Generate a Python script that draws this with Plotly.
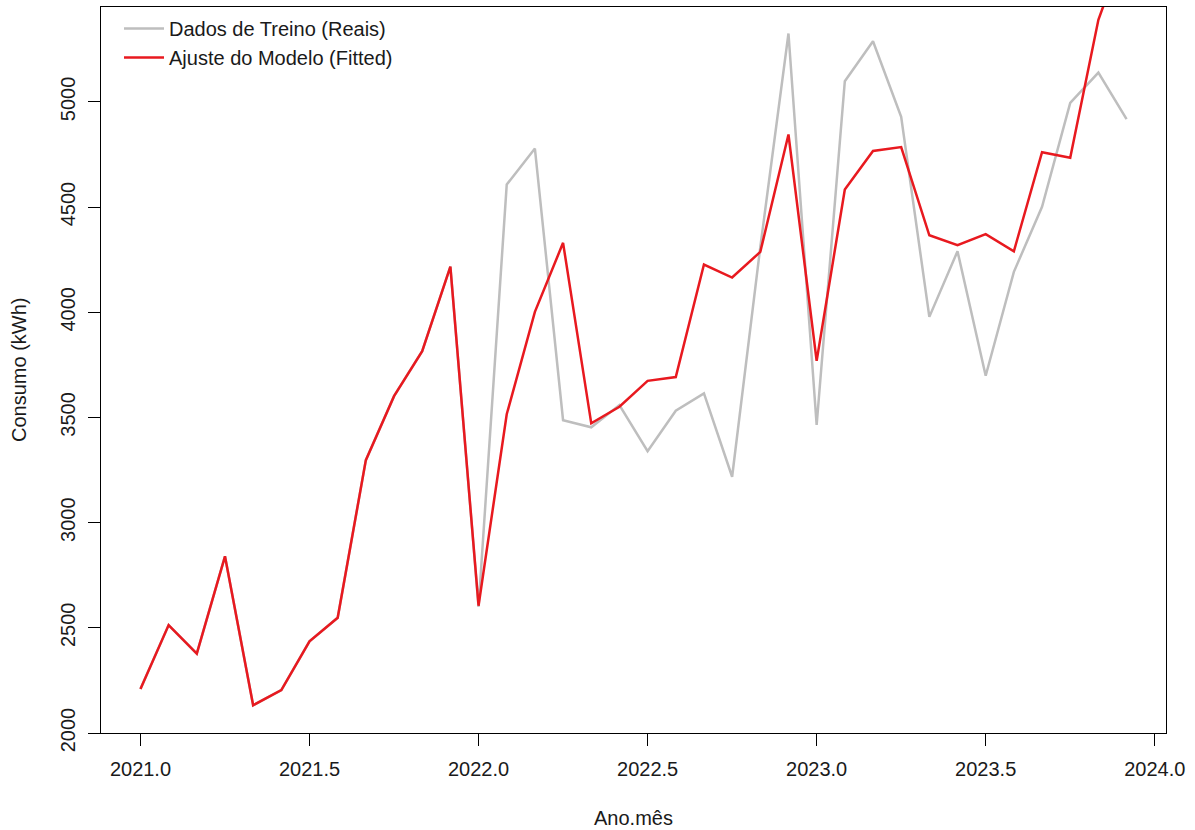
import plotly.graph_objects as go

# ---- data ----
anos = [2021, 2022, 2023]
meses = list(range(12))
tempo = [a + m / 12 for a in anos for m in meses]

reais = [2209, 2513, 2377, 2840, 2132, 2204, 2436, 2548, 3297, 3601, 3815, 4217,
         2600, 4607, 4778, 3487, 3453, 3559, 3340, 3532, 3614, 3218, 4310, 5325,
         3464, 5098, 5288, 4929, 3978, 4290, 3698, 4192, 4501, 4995, 5139, 4918]

ajustado = [2209, 2513, 2377, 2840, 2132, 2204, 2436, 2548, 3297, 3601, 3815, 4217,
            2605, 3515, 4002, 4330, 3472, 3551, 3674, 3692, 4227, 4165, 4287, 4845,
            3769, 4583, 4767, 4785, 4366, 4319, 4371, 4290, 4761, 4734, 5390, 5760]

x_ticks = [2021.0, 2021.5, 2022.0, 2022.5, 2023.0, 2023.5, 2024.0]
y_ticks = [2000, 2500, 3000, 3500, 4000, 4500, 5000]

FONT = "Liberation Sans, Arial, sans-serif"
TXT = "#1a1a1a"

fig = go.Figure()
fig.add_trace(go.Scatter(x=tempo, y=reais, mode="lines", name="Dados de Treino (Reais)",
                         line=dict(color="#BEBEBE", width=2.5)))
fig.add_trace(go.Scatter(x=tempo, y=ajustado, mode="lines", name="Ajuste do Modelo (Fitted)",
                         line=dict(color="#E8191F", width=2.5)))

W, H = 1195, 830
L, R, T, B = 101, 29, 7, 97
pw, ph = W - L - R, H - T - B

fig.update_layout(
    width=W, height=H,
    margin=dict(l=L, r=R, t=T, b=B, pad=0),
    paper_bgcolor="white", plot_bgcolor="white",
    font=dict(family=FONT, size=20, color=TXT),
    showlegend=True,
    legend=dict(x=(119 - L) / pw, y=1 - (9 - T) / ph, xanchor="left", yanchor="top",
                bgcolor="rgba(0,0,0,0)", borderwidth=0, font=dict(size=20, color=TXT),
                itemwidth=40, tracegroupgap=0),
    xaxis=dict(range=[2020.8833, 2024.0333], tickvals=x_ticks,
               ticktext=[f"{v:.1f}" for v in x_ticks],
               showgrid=False, zeroline=False, showline=True, mirror=True,
               linecolor="black", linewidth=1, ticks="outside", ticklen=12,
               tickcolor="black", tickwidth=1, ticklabelstandoff=6,
               tickfont=dict(size=20, color=TXT)),
    yaxis=dict(range=[2000, 5451], tickvals=y_ticks, tickangle=-90,
               showgrid=False, zeroline=False, showline=True, mirror=True,
               linecolor="black", linewidth=1, ticks="outside", ticklen=12,
               tickcolor="black", tickwidth=1, ticklabelstandoff=5,
               tickfont=dict(size=20, color=TXT)),
    annotations=[
        dict(text="Ano.mês", xref="paper", yref="paper", x=0.5, y=-(818 - (T + ph)) / ph,
             xanchor="center", yanchor="middle", showarrow=False,
             font=dict(size=20, color=TXT, family=FONT)),
        dict(text="Consumo (kWh)", xref="paper", yref="paper", x=-(L - 19) / pw, y=0.5,
             xanchor="center", yanchor="middle", textangle=-90, showarrow=False,
             font=dict(size=20, color=TXT, family=FONT)),
    ],
)

fig.write_html("out.html", config={"displayModeBar": False},
               post_script="document.body.style.margin='0';document.body.style.overflow='hidden';")
